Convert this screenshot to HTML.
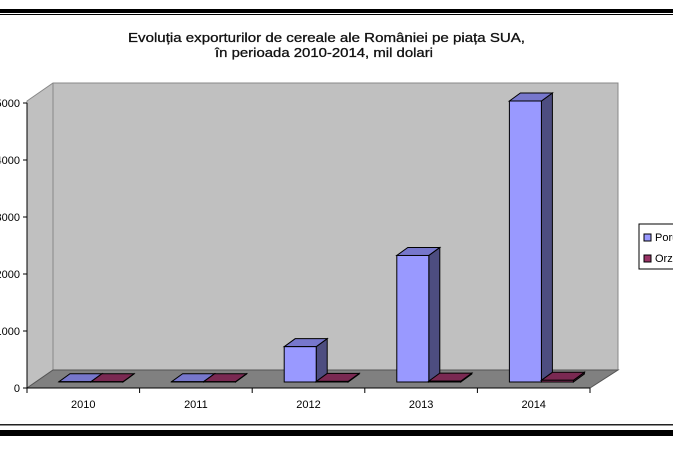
<!DOCTYPE html>
<html><head><meta charset="utf-8"><style>
body{margin:0;background:#fff;width:673px;height:449px;overflow:hidden}
svg text{font-family:"Liberation Sans",Arial,sans-serif}
</style></head><body>
<svg width="673" height="449">
<rect x="0" y="9" width="673" height="4" fill="#000"/>
<rect x="0" y="14" width="673" height="1" fill="#000"/>
<rect x="0" y="424" width="673" height="1.5" fill="#222"/>
<rect x="0" y="430" width="673" height="6" fill="#000"/>
<text x="128" y="42" font-size="13" textLength="397" lengthAdjust="spacingAndGlyphs" fill="#111" stroke="#111" stroke-width="0.3">Evoluția exporturilor de cereale ale României pe piața SUA,</text>
<text x="215" y="57" font-size="13" textLength="218" lengthAdjust="spacingAndGlyphs" fill="#111" stroke="#111" stroke-width="0.3">în perioada 2010-2014, mil dolari</text>
<polygon points="27,101 53,83 618,83 618,370 53,370 27,388" fill="#c0c0c0" stroke="#888" stroke-width="1"/>
<line x1="53" y1="83" x2="53" y2="370" stroke="#888"/>
<polygon points="27,388 53,370 618,370 590,388" fill="#808080" stroke="#555"/>
<g id="axes"></g>
<g id="bars"></g>
<rect x="639" y="224" width="40" height="45" fill="#fff" stroke="#000"/>
<rect x="644" y="234" width="7" height="7" fill="#9999ff" stroke="#000"/>
<text x="655" y="241" font-size="11">Porumb</text>
<rect x="644" y="255" width="7" height="7" fill="#993366" stroke="#000"/>
<text x="655" y="262" font-size="11">Orz</text>
</svg>
<script>
const categories=["2010","2011","2012","2013","2014"];
const porumb=[5,5,620,2220,4930];
const orz=[5,5,10,15,30];
const yTicks=[0,1000,2000,3000,4000,5000];
const ns="http://www.w3.org/2000/svg";
const x0=27,x1=590,y0=388,pxPer=0.057,base=382,dx=11,dy=-8,bw=32;
const cw=(x1-x0)/categories.length;
function yAxis(v){return y0-v*pxPer;}
function yBar(v){return base-v*pxPer;}
function mk(tag,attrs,parent){const e=document.createElementNS(ns,tag);for(const k in attrs)e.setAttribute(k,attrs[k]);parent.appendChild(e);return e;}
const ax=document.getElementById('axes'),bg=document.getElementById('bars');
let l=mk('line',{x1:x0,y1:yAxis(yTicks[yTicks.length-1]),x2:x0,y2:y0,stroke:'#000'},ax);


l=mk('line',{x1:x0,y1:y0,x2:x1,y2:y0,stroke:'#000'},ax);


yTicks.forEach(v=>{const y=yAxis(v);
 const t=mk('line',{x1:x0-4,y1:y,x2:x0,y2:y,stroke:'#000'},ax);
 
 
 const tx=mk('text',{x:x0-7,y:y+4,'text-anchor':'end','font-size':'11'},ax);tx.textContent=v;
 
 
});
for(let i=0;i<=categories.length;i++){const x=x0+i*cw;
 const t=mk('line',{x1:x,y1:y0,x2:x,y2:y0+5,stroke:'#000'},ax);
 
 }
categories.forEach((c,i)=>{
 const tx=mk('text',{x:x0+i*cw+cw/2,y:y0+20,'text-anchor':'middle','font-size':'11'},ax);tx.textContent=c;
 
 
});
function bar(x,v,front,top,side,name){
 const yt=yBar(v),g=mk('g',{stroke:'#000','stroke-width':'1'},bg);
 
 
 mk('polygon',{points:`${x+bw},${base} ${x+bw+dx},${base+dy} ${x+bw+dx},${yt+dy} ${x+bw},${yt}`,fill:side},g);
 mk('polygon',{points:`${x},${yt} ${x+dx},${yt+dy} ${x+bw+dx},${yt+dy} ${x+bw},${yt}`,fill:top},g);
 mk('rect',{x:x,y:yt,width:bw,height:base-yt,fill:front},g);
}
categories.forEach((c,i)=>{const xs=x0+i*cw+32;
 bar(xs,porumb[i],'#9999ff','#7777cc','#4d4d80','bar-porumb-'+c);
 bar(xs+bw,orz[i],'#993366','#7a2952','#4d1a33','bar-orz-'+c);
});
</script>
</body></html>
